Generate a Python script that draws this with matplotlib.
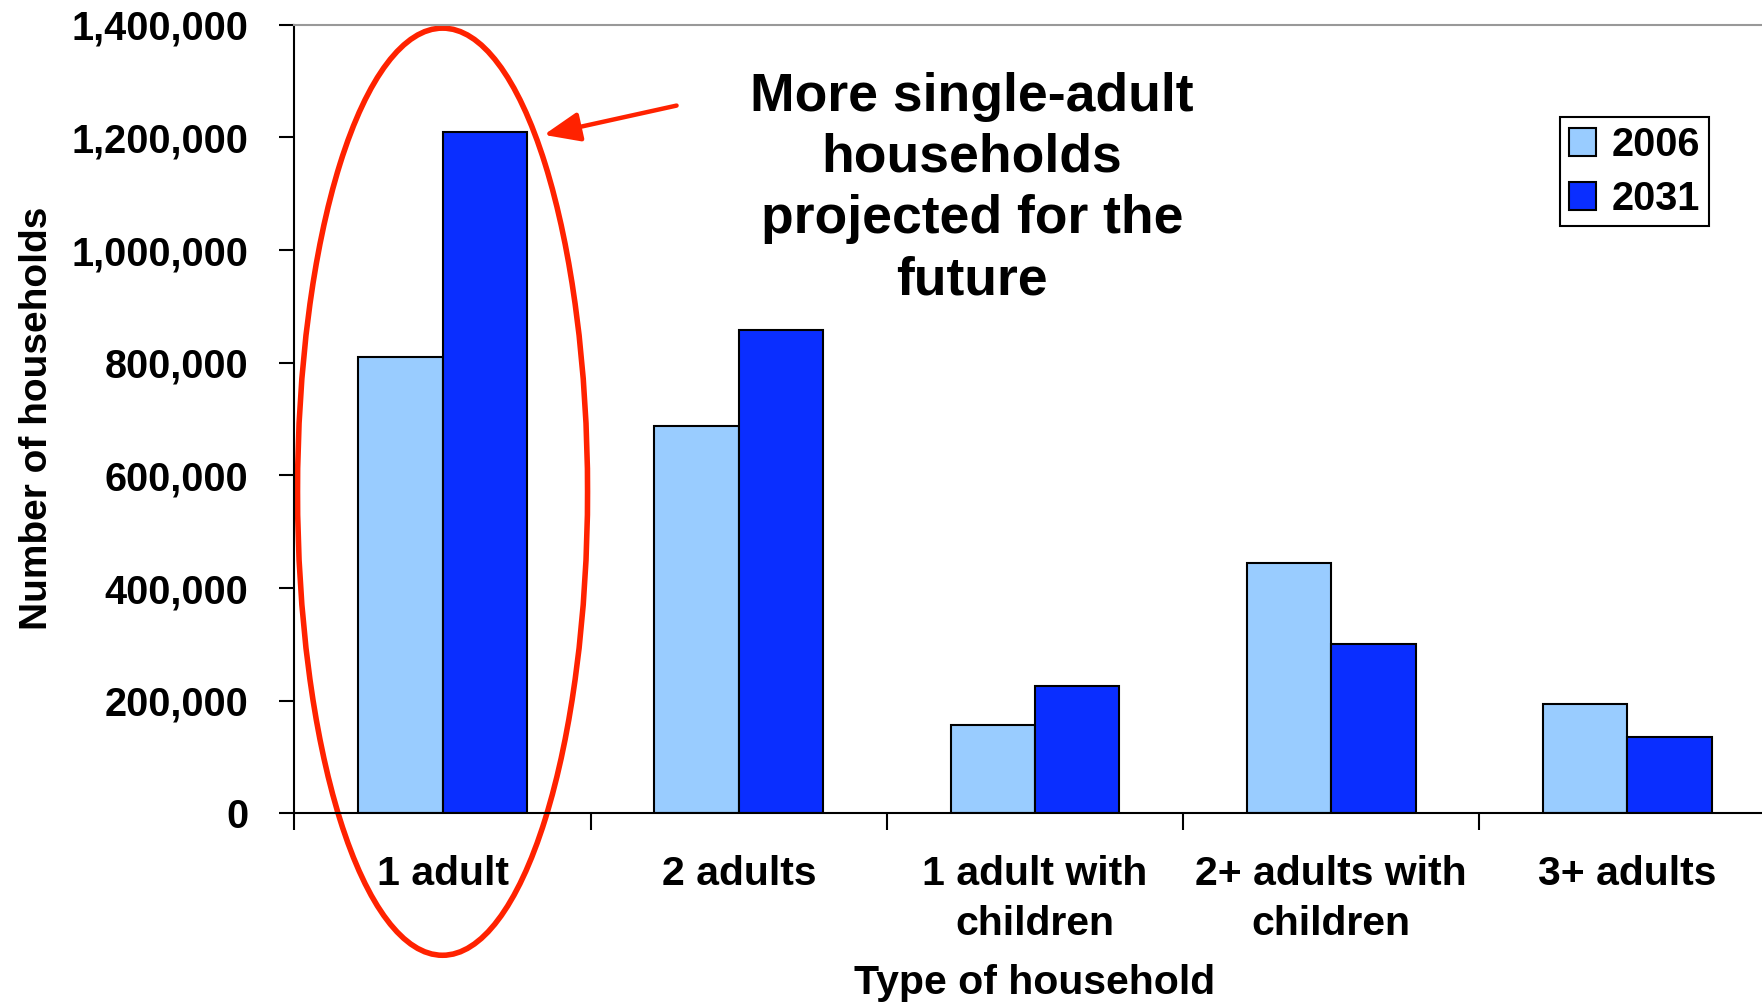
import matplotlib
matplotlib.use("Agg")
import matplotlib.pyplot as plt
from matplotlib.patches import Ellipse
from matplotlib.ticker import FuncFormatter, FixedLocator
import numpy as np

plt.rcParams['font.family'] = ['Liberation Sans', 'DejaVu Sans']
plt.rcParams['font.weight'] = 'bold'

categories = ['1 adult', '2 adults', '1 adult with\nchildren',
              '2+ adults with\nchildren', '3+ adults']
years = ['2006', '2031']
households_2006 = [810000, 688000, 156000, 444000, 194000]
households_2031 = [1210000, 858000, 226000, 300000, 136000]
y_ticks = [0, 200000, 400000, 600000, 800000, 1000000, 1200000, 1400000]

note_text = 'More single-adult\nhouseholds\nprojected for the\nfuture'

LIGHT = '#99CCFF'
DARK = '#0A2EFF'
RED = '#FF2200'
BAR_W = 0.285

fig = plt.figure(figsize=(17.62, 10.02), dpi=100)
ax = fig.add_axes([0.1671, 0.1883, 0.8406, 0.7870])

x = np.arange(len(categories))
ax.bar(x, households_2006, width=-BAR_W, align='edge', color=LIGHT,
       edgecolor='black', linewidth=1.5, label=years[0])
ax.bar(x, households_2031, width=BAR_W, align='edge', color=DARK,
       edgecolor='black', linewidth=1.5, label=years[1])

ax.set_xlim(-0.5, len(categories) - 0.5)
ax.set_ylim(0, 1400000)
ax.set_yticks(y_ticks)
ax.yaxis.set_major_formatter(FuncFormatter(lambda v, p: f'{int(v):,}'))
ax.tick_params(axis='y', length=11, width=1.5, labelsize=28.5, pad=22)

# category boundaries get tick marks, labels sit in the middle
ax.xaxis.set_major_locator(FixedLocator(np.arange(-0.5, len(categories), 1.0)))
ax.xaxis.set_major_formatter(FuncFormatter(lambda v, p: ''))
ax.xaxis.set_minor_locator(FixedLocator(x))
ax.set_xticklabels(categories, minor=True, fontsize=29.5, linespacing=1.4)
ax.tick_params(axis='x', which='major', length=12, width=1.5, direction='out')
ax.tick_params(axis='x', which='minor', length=0, pad=30)

for s in ['left', 'bottom']:
    ax.spines[s].set_linewidth(1.5)
ax.spines['top'].set_color('#999999')
ax.spines['top'].set_linewidth(1.5)
ax.spines['right'].set_visible(False)

fig.text(0.021, 0.583, 'Number of households', rotation=90, fontsize=28,
         ha='center', va='center')
fig.text(0.587, 0.019, 'Type of household', fontsize=29.5,
         ha='center', va='center')

ax.legend(loc='upper right', bbox_to_anchor=(0.970, 0.883),
          bbox_transform=fig.transFigure, borderaxespad=0, fontsize=28.5,
          fancybox=False, edgecolor='black', framealpha=1,
          handlelength=0.7, handleheight=0.7, handletextpad=0.4,
          labelspacing=0.4, borderpad=0.22).get_frame().set_linewidth(1.5)

# highlight for the single-adult group
ax.add_patch(Ellipse((0, 571000), 0.979, 1646000, fill=False,
                     edgecolor=RED, linewidth=4, clip_on=False))

fig.text(0.5517, 0.8118, note_text, fontsize=38.5, ha='center', va='center',
         multialignment='center', linespacing=1.29)
ax.annotate('', xy=(0.342, 1204500), xytext=(0.790, 1256500),
            arrowprops=dict(arrowstyle='-|>,head_length=1.1,head_width=0.45',
                            color=RED, lw=3.2, mutation_scale=20,
                            shrinkA=0, shrinkB=0))

fig.savefig('out.png', dpi=100)
